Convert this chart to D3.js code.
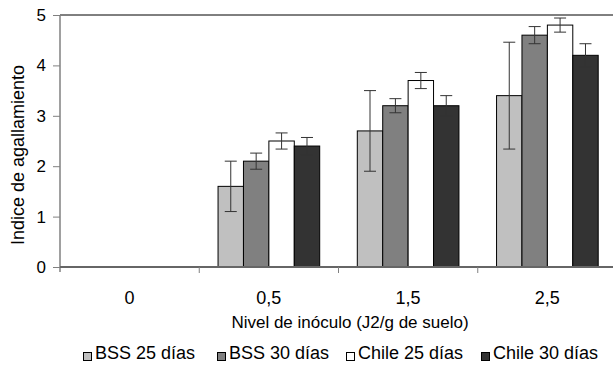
<!DOCTYPE html>
<html>
<head>
<meta charset="utf-8">
<script src="https://cdn.jsdelivr.net/npm/d3@7"></script>
<style>
  body { margin: 0; background: #fff; }
  svg { display: block; font-family: "Liberation Sans", Arial, sans-serif; }
</style>
</head>
<body>
<div id="chart"></div>
<script>
const categories = ["0", "0,5", "1,5", "2,5"];
const seriesNames = ["BSS 25 días", "BSS 30 días", "Chile 25 días", "Chile 30 días"];
const seriesColors = ["#c0c0c0", "#808080", "#ffffff", "#333333"];

// means per category, one array per series
const bss25 = [0, 1.6, 2.7, 3.4];
const bss30 = [0, 2.1, 3.2, 4.6];
const chile25 = [0, 2.5, 3.7, 4.8];
const chile30 = [0, 2.4, 3.2, 4.2];

// error half-widths
const bss25Err = [0, 0.5, 0.8, 1.06];
const bss30Err = [0, 0.16, 0.14, 0.17];
const chile25Err = [0, 0.16, 0.16, 0.14];
const chile30Err = [0, 0.17, 0.2, 0.23];

const yTicks = [0, 1, 2, 3, 4, 5];

const values = [bss25, bss30, chile25, chile30];
const errors = [bss25Err, bss30Err, chile25Err, chile30Err];

const width = 613, height = 367;
const plot = { left: 60, right: 617, top: 15, bottom: 267 };
const fontSize = 18;

const svg = d3.select("#chart").append("svg")
    .attr("width", width)
    .attr("height", height);

const x = d3.scaleBand().domain(categories).range([plot.left, plot.right]);
const bw = x.bandwidth();
const xs = d3.scaleBand().domain(d3.range(seriesNames.length))
    .range([bw * 0.135, bw * 0.865]);
const y = d3.scaleLinear().domain([0, 5]).range([plot.bottom, plot.top]);

// top frame line
svg.append("line")
    .attr("x1", plot.left).attr("x2", plot.right)
    .attr("y1", y(5)).attr("y2", y(5))
    .attr("stroke", "#000").attr("stroke-width", 1);

// bars
const rows = [];
categories.forEach((c, ci) => {
    seriesNames.forEach((s, si) => {
        rows.push({ c, si, v: values[si][ci], e: errors[si][ci] });
    });
});

const shown = rows.filter(d => d.v > 0);

svg.append("g").selectAll("rect")
    .data(shown)
    .join("rect")
    .attr("x", d => x(d.c) + xs(d.si))
    .attr("y", d => y(d.v))
    .attr("width", xs.bandwidth())
    .attr("height", d => y(0) - y(d.v))
    .attr("fill", d => seriesColors[d.si])
    .attr("stroke", "#000")
    .attr("stroke-width", 1);

// error bars
const eb = svg.append("g").attr("stroke", "#333").attr("stroke-width", 1);
shown.forEach(d => {
    const cx = x(d.c) + xs(d.si) + xs.bandwidth() / 2;
    eb.append("line").attr("x1", cx).attr("x2", cx)
        .attr("y1", y(d.v + d.e)).attr("y2", y(d.v - d.e));
    [d.v + d.e, d.v - d.e].forEach(t => {
        eb.append("line").attr("x1", cx - 6).attr("x2", cx + 6)
            .attr("y1", y(t)).attr("y2", y(t));
    });
});

// y axis
const yAxis = svg.append("g")
    .attr("transform", `translate(${plot.left},0)`)
    .call(d3.axisLeft(y).tickValues(yTicks).tickFormat(d3.format("d")).tickSize(7).tickPadding(7));
yAxis.select(".domain").attr("stroke", "#808080").attr("stroke-width", 1.5)
    .attr("d", `M0,${plot.top}V${plot.bottom + 5}`);
yAxis.selectAll(".tick line").attr("stroke", "#808080");
yAxis.selectAll("text").attr("font-size", fontSize - 1).attr("fill", "#000")
    .attr("font-family", "Liberation Sans, Arial, sans-serif");

// x axis baseline and ticks at category boundaries
svg.append("line")
    .attr("x1", plot.left).attr("x2", plot.right)
    .attr("y1", plot.bottom).attr("y2", plot.bottom)
    .attr("stroke", "#666").attr("stroke-width", 2);
svg.append("g").selectAll("line")
    .data(categories.slice(1))
    .join("line")
    .attr("x1", d => x(d)).attr("x2", d => x(d))
    .attr("y1", plot.bottom).attr("y2", plot.bottom + 6)
    .attr("stroke", "#808080");
svg.append("g").selectAll("text")
    .data(categories)
    .join("text")
    .attr("x", d => x(d) + bw / 2)
    .attr("y", 304)
    .attr("text-anchor", "middle")
    .attr("font-size", fontSize)
    .text(d => d);

// axis titles
svg.append("text")
    .attr("x", 350).attr("y", 328)
    .attr("text-anchor", "middle")
    .attr("font-size", fontSize - 1)
    .text("Nivel de inóculo (J2/g de suelo)");
svg.append("text")
    .attr("transform", "translate(24,155) rotate(-90)")
    .attr("text-anchor", "middle")
    .attr("font-size", fontSize)
    .text("Indice de agallamiento");

// legend
const legendX = [83, 217, 346, 481];
const legend = svg.append("g").selectAll("g")
    .data(seriesNames)
    .join("g")
    .attr("transform", (d, i) => `translate(${legendX[i]},359)`);
legend.append("rect")
    .attr("x", 0.5).attr("y", -6.5)
    .attr("width", 8).attr("height", 8)
    .attr("fill", (d, i) => seriesColors[i])
    .attr("stroke", "#000").attr("stroke-width", 1);
legend.append("text")
    .attr("x", 12).attr("y", 0)
    .attr("font-size", fontSize)
    .text(d => d);
</script>
</body>
</html>
